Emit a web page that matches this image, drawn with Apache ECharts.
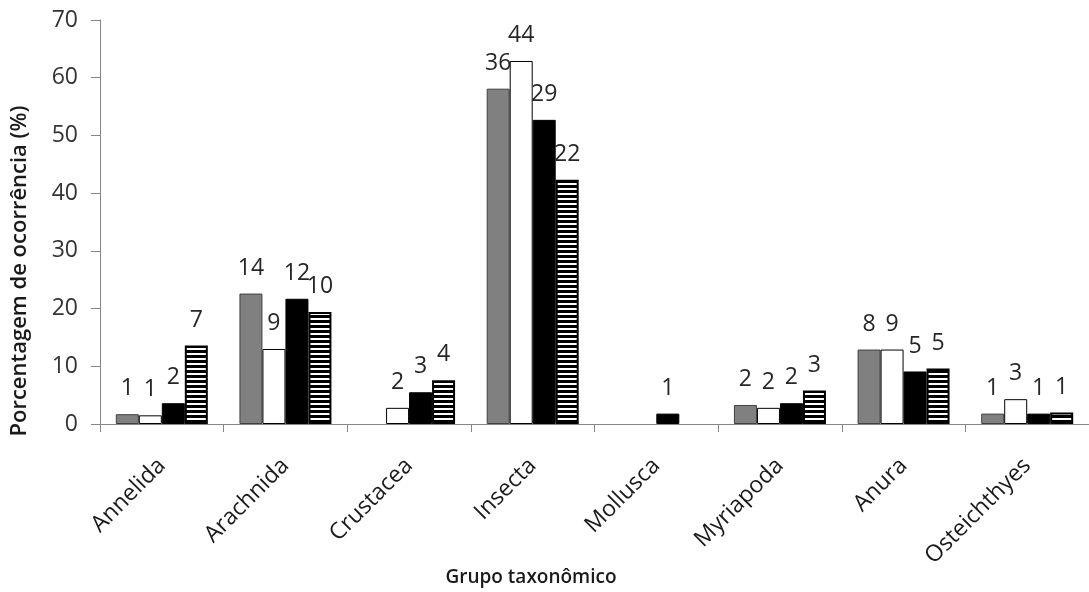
<!DOCTYPE html>
<html>
<head>
<meta charset="utf-8">
<script src="https://cdn.jsdelivr.net/npm/echarts@6/dist/echarts.min.js"></script>
<style>html,body{margin:0;padding:0;background:#fff;}#c{width:1089px;height:592px;}</style>
</head>
<body>
<div id="c"></div>
<script>
const categories = ['Annelida','Arachnida','Crustacea','Insecta','Mollusca','Myriapoda','Anura','Osteichthyes'];
// percentage of occurrence (bar heights)
const grayValues    = [1.7, 22.6, 0,   58.1, 0,   3.3, 12.9, 1.8];
const whiteValues   = [1.5, 13.0, 2.8, 62.9, 0,   2.8, 12.9, 4.3];
const blackValues   = [3.6, 21.7, 5.5, 52.7, 1.8, 3.6, 9.1,  1.8];
const stripedValues = [13.6,19.4, 7.6, 42.3, 0,   5.8, 9.6,  2.0];
// counts shown above bars
const grayCounts    = [1, 14, null, 36, null, 2, 8, 1];
const whiteCounts   = [1, 9,  2,    44, null, 2, 9, 3];
const blackCounts   = [2, 12, 3,    29, 1,    2, 5, 1];
const stripedCounts = [7, 10, 4,    22, null, 3, 5, 1];
const yTicks = [0,10,20,30,40,50,60,70];

const FONT = '"Open Sans", sans-serif';

function stripePattern(){
  const c = document.createElement('canvas');
  c.width = 8; c.height = 5;
  const g = c.getContext('2d');
  g.fillStyle = '#ffffff'; g.fillRect(0,0,8,5);
  g.fillStyle = '#000000'; g.fillRect(0,0,8,3);
  return c;
}

function mk(values, counts, itemStyle){
  return {
    type: 'bar',
    barWidth: 23,
    barGap: '0%',
    data: values.map(v => v === 0 ? '-' : v),
    itemStyle: itemStyle,
    label: {
      show: true,
      position: 'top',
      distance: 14,
      fontFamily: FONT,
      fontSize: 23,
      color: '#262626',
      formatter: p => { const c = counts[p.dataIndex]; return c == null ? '' : String(c); }
    },
    emphasis: {disabled: true}
  };
}

const chart = echarts.init(document.getElementById('c'), null, {renderer: 'canvas'});
chart.setOption({
  animation: false,
  backgroundColor: '#ffffff',
  grid: {left: 100, top: 20, width: 1012, height: 404, containLabel: false},
  xAxis: {
    type: 'category',
    data: categories,
    axisLine: {lineStyle: {color: '#868686', width: 1}},
    axisTick: {show: true, length: 8, lineStyle: {color: '#868686'}},
    axisLabel: {rotate: 45, margin: 38, fontFamily: FONT, fontSize: 23, color: '#1a1a1a', interval: 0}
  },
  yAxis: {
    type: 'value',
    min: 0, max: 70, interval: 10,
    splitLine: {show: false},
    axisLine: {show: true, lineStyle: {color: '#868686', width: 1}},
    axisTick: {show: true, length: 9, lineStyle: {color: '#868686'}},
    axisLabel: {margin: 22, fontFamily: FONT, fontSize: 23, color: '#333333',
      formatter: v => yTicks.includes(v) ? String(v) : ''}
  },
  series: [
    mk(grayValues, grayCounts, {color: '#808080', borderColor: '#404040', borderWidth: 1}),
    mk(whiteValues, whiteCounts, {color: '#ffffff', borderColor: '#000000', borderWidth: 1}),
    mk(blackValues, blackCounts, {color: '#000000', borderColor: '#000000', borderWidth: 1}),
    mk(stripedValues, stripedCounts, {color: {image: stripePattern(), repeat: 'repeat'}, borderColor: '#000000', borderWidth: 2})
  ],
  graphic: [
    {type: 'text', x: 20, y: 271, rotation: Math.PI/2, style: {text: 'Porcentagem de ocorrência (%)', font: '600 22px "Open Sans", sans-serif', fill: '#1a1a1a', align: 'center', verticalAlign: 'middle'}},
    {type: 'text', x: 531, y: 578, style: {text: 'Grupo taxonômico', font: '600 19px "Open Sans", sans-serif', fill: '#1a1a1a', align: 'center', verticalAlign: 'middle'}}
  ]
});
</script>
</body>
</html>
